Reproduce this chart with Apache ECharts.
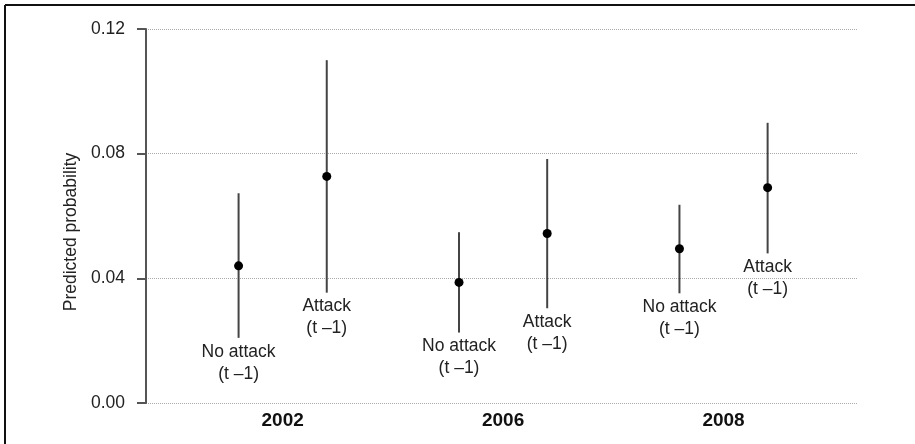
<!DOCTYPE html>
<html lang="en">
<head>
    <meta charset="UTF-8">
    <title>Predicted probability</title>
    <style>
        body{
            margin: 0;
            background: #fff;
        }
    </style>
</head>
<body>
<div id="main" style="width: 915px;height:444px;"></div>
<script src="https://cdn.jsdelivr.net/npm/echarts@6/dist/echarts.min.js"></script>
<script type="text/javascript">
    // data
    var years = ['2002', '2006', '2008'];
    var conditions = ['No attack\n(t \u20131)', 'Attack\n(t \u20131)'];
    // [no attack, attack] for each year
    var estimate = [[0.0440, 0.0727], [0.0387, 0.0544], [0.0495, 0.0691]];
    var lower = [[0.0209, 0.0354], [0.0226, 0.0304], [0.0352, 0.0480]];
    var upper = [[0.0673, 0.1100], [0.0548, 0.0783], [0.0636, 0.0899]];
    var yTicks = [0, 0.04, 0.08, 0.12];

    var font = 'Liberation Sans, Arial, sans-serif';

    // dodge: each year sits at 0, 5, 10, the two conditions at -1 / +1
    var barData = [];
    var dotData = [];
    years.forEach(function (y, i) {
        conditions.forEach(function (c, j) {
            var x = i * 5 + (j === 0 ? -1 : 1);
            barData.push([x, lower[i][j], upper[i][j], j]);
            dotData.push([x, estimate[i][j]]);
        });
    });

    var myChart = echarts.init(document.getElementById('main'));
    var option = {
        backgroundColor: '#fff',
        animation: false,
        grid: {
            left: 146,
            right: 57,
            top: 29,
            bottom: 41
        },
        graphic: [
            {type: 'line', shape: {x1: 5, y1: 5, x2: 915, y2: 5}, style: {stroke: '#111', lineWidth: 2}},
            {type: 'line', shape: {x1: 5, y1: 5, x2: 5, y2: 444}, style: {stroke: '#111', lineWidth: 2}}
        ],
        xAxis: {
            type: 'value',
            min: -3.1,
            max: 13.05,
            axisLine: {show: false},
            axisTick: {show: false},
            splitLine: {show: false},
            axisLabel: {
                customValues: [0, 5, 10],
                formatter: function (v) {
                    return years[Math.round(v / 5)];
                },
                margin: 8,
                color: '#111',
                fontWeight: 'bold',
                fontSize: 19,
                fontFamily: font
            }
        },
        yAxis: {
            type: 'value',
            min: yTicks[0],
            max: yTicks[yTicks.length - 1],
            interval: 0.04,
            name: 'Predicted probability',
            nameLocation: 'middle',
            nameGap: 62,
            nameTextStyle: {
                fontSize: 17.5,
                color: '#222',
                fontFamily: font,
                padding: [0, 32, 0, 0]
            },
            axisLine: {
                show: true,
                onZero: false,
                lineStyle: {color: '#555', width: 2}
            },
            axisTick: {
                show: true,
                length: 9,
                lineStyle: {color: '#555', width: 2}
            },
            axisLabel: {
                margin: 21,
                color: '#222',
                fontSize: 17.5,
                fontFamily: font,
                formatter: function (v) {
                    return v.toFixed(2);
                }
            },
            splitLine: {
                show: true,
                lineStyle: {color: '#aaa', type: 'dotted', width: 1}
            }
        },
        series: [
            {
                type: 'custom',
                data: barData,
                renderItem: function (params, api) {
                    var top = api.coord([api.value(0), api.value(2)]);
                    var bot = api.coord([api.value(0), api.value(1)]);
                    return {
                        type: 'group',
                        children: [
                            {
                                type: 'line',
                                shape: {x1: top[0], y1: top[1], x2: bot[0], y2: bot[1]},
                                style: {stroke: '#444', lineWidth: 2}
                            },
                            {
                                type: 'text',
                                style: {
                                    text: conditions[api.value(3)],
                                    x: bot[0],
                                    y: bot[1] + 3,
                                    align: 'center',
                                    verticalAlign: 'top',
                                    fill: '#222',
                                    font: '17.5px ' + font,
                                    lineHeight: 22
                                }
                            }
                        ]
                    };
                }
            },
            {
                type: 'scatter',
                data: dotData,
                symbolSize: 9,
                itemStyle: {color: '#000', opacity: 1}
            }
        ]
    };
    option && myChart.setOption(option);
</script>
</body>
</html>
